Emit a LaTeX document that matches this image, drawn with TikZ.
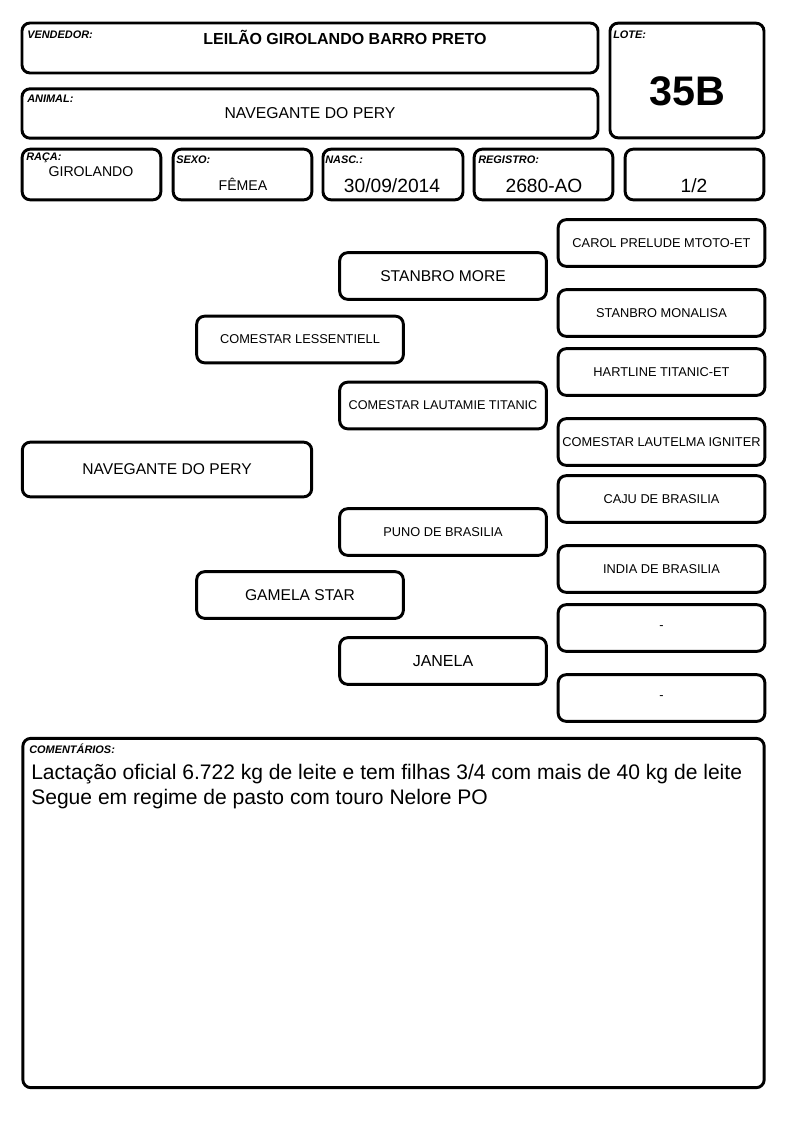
\documentclass[tikz,border=0pt]{standalone}
\usepackage{fontspec}
\setmainfont{Liberation Sans}
\usetikzlibrary{positioning}

\tikzset{
  cell/.style={draw, line width=2.2pt, rounded corners=6pt, inner sep=0pt},
  ped/.style={cell, minimum width=155pt, minimum height=35pt, font=\fontsize{9.6}{11}\selectfont},
  tag/.style={anchor=west, inner sep=0pt, font=\bfseries\itshape\fontsize{8.2}{9}\selectfont},
  val/.style={inner sep=0pt, font=\fontsize{10.6}{12}\selectfont},
  big/.style={inner sep=0pt, font=\fontsize{14.4}{16}\selectfont}
}

\begin{document}
\begin{tikzpicture}[x=0.75pt, y=-0.75pt]
	\useasboundingbox[fill=white] (0,0) rectangle (794,1123);
	% cabecalho
	\node[cell, minimum width=432pt, minimum height=37.5pt] (vend) at (310,48) {};
	\node[cell, minimum width=432pt, minimum height=37pt] (animal) at (310,113.5) {};
	\node[cell, minimum width=115.5pt, minimum height=86pt] (lote) at (687,80.5) {};
	\node[cell, minimum width=104pt, minimum height=38pt] (raca) at (91.5,174.5) {};
	\node[cell, minimum width=104pt, minimum height=38pt] (sexo) at (242.5,174.5) {};
	\node[cell, minimum width=105pt, minimum height=38pt] (nasc) at (393,174.5) {};
	\node[cell, minimum width=104pt, minimum height=38pt] (reg) at (543.5,174.5) {};
	\node[cell, minimum width=104pt, minimum height=38pt] (frac) at (694.5,174.5) {};

	\node[tag] (vendtag) at (27,35) {VENDEDOR:};
	\node[inner sep=0pt, font=\bfseries\fontsize{12}{14}\selectfont] (vendname) at (345,37) {LEILÃO GIROLANDO BARRO PRETO};
	\node[tag] (animaltag) at (27,99) {ANIMAL:};
	\node[inner sep=0pt, font=\fontsize{11.8}{14}\selectfont] (animalname) at (310,113) {NAVEGANTE DO PERY};
	\node[tag] (lotetag) at (613,35) {LOTE:};
	\node[inner sep=0pt, font=\bfseries\fontsize{31}{36}\selectfont] (lotenum) at (687,91) {35B};
	\node[tag] (racatag) at (26,158) {RAÇA:};
	\node[val] (racaval) at (91,172) {GIROLANDO};
	\node[tag] (sexotag) at (176,160) {SEXO:};
	\node[val] (sexoval) at (243,184) {FÊMEA};
	\node[tag] (nasctag) at (325,160) {NASC.:};
	\node[big] (nascval) at (392,186) {30/09/2014};
	\node[tag] (regtag) at (478,160) {REGISTRO:};
	\node[big] (regval) at (544,186) {2680-AO};
	\node[big] (fracval) at (694,186) {1/2};

	% genealogia
	\node[ped, minimum width=217pt, minimum height=41pt, font=\fontsize{11.7}{14}\selectfont] (nav) at (167,469.5) {NAVEGANTE DO PERY};
	\node[ped] (pai) at (300,339.5) {COMESTAR LESSENTIELL};
	\node[ped, font=\fontsize{11.7}{14}\selectfont] (mae) at (300,595) {GAMELA STAR};
	\node[ped, font=\fontsize{11.7}{14}\selectfont] (avo1) at (443,276) {STANBRO MORE};
	\node[ped, font=\fontsize{9.5}{11}\selectfont] (avo2) at (443,405.5) {COMESTAR LAUTAMIE TITANIC};
	\node[ped] (avo3) at (443,532) {PUNO DE BRASILIA};
	\node[ped, font=\fontsize{12}{14}\selectfont] (avo4) at (443,661) {JANELA};
	\node[ped] (bis1) at (661.5,243) {CAROL PRELUDE MTOTO-ET};
	\node[ped] (bis2) at (661.5,313) {STANBRO MONALISA};
	\node[ped] (bis3) at (661.5,372) {HARTLINE TITANIC-ET};
	\node[ped] (bis4) at (661.5,442) {COMESTAR LAUTELMA IGNITER};
	\node[ped] (bis5) at (661.5,499) {CAJU DE BRASILIA};
	\node[ped] (bis6) at (661.5,569) {INDIA DE BRASILIA};
	\node[ped] (bis7) at (661.5,628) {-};
	\node[ped] (bis8) at (661.5,698) {-};

	% comentarios
	\node[cell, minimum width=556pt, minimum height=262pt] (coment) at (393.5,913) {};
	\node[tag] (comenttag) at (29,749) {COMENTÁRIOS:};
	\node[anchor=north west, inner sep=0pt, align=left, font=\fontsize{15.8}{18.75}\selectfont] (comenttext) at (31,764)
		{Lactação oficial 6.722 kg de leite e tem filhas 3/4 com mais de 40 kg de leite\\
		Segue em regime de pasto com touro Nelore PO};
\end{tikzpicture}
\end{document}
